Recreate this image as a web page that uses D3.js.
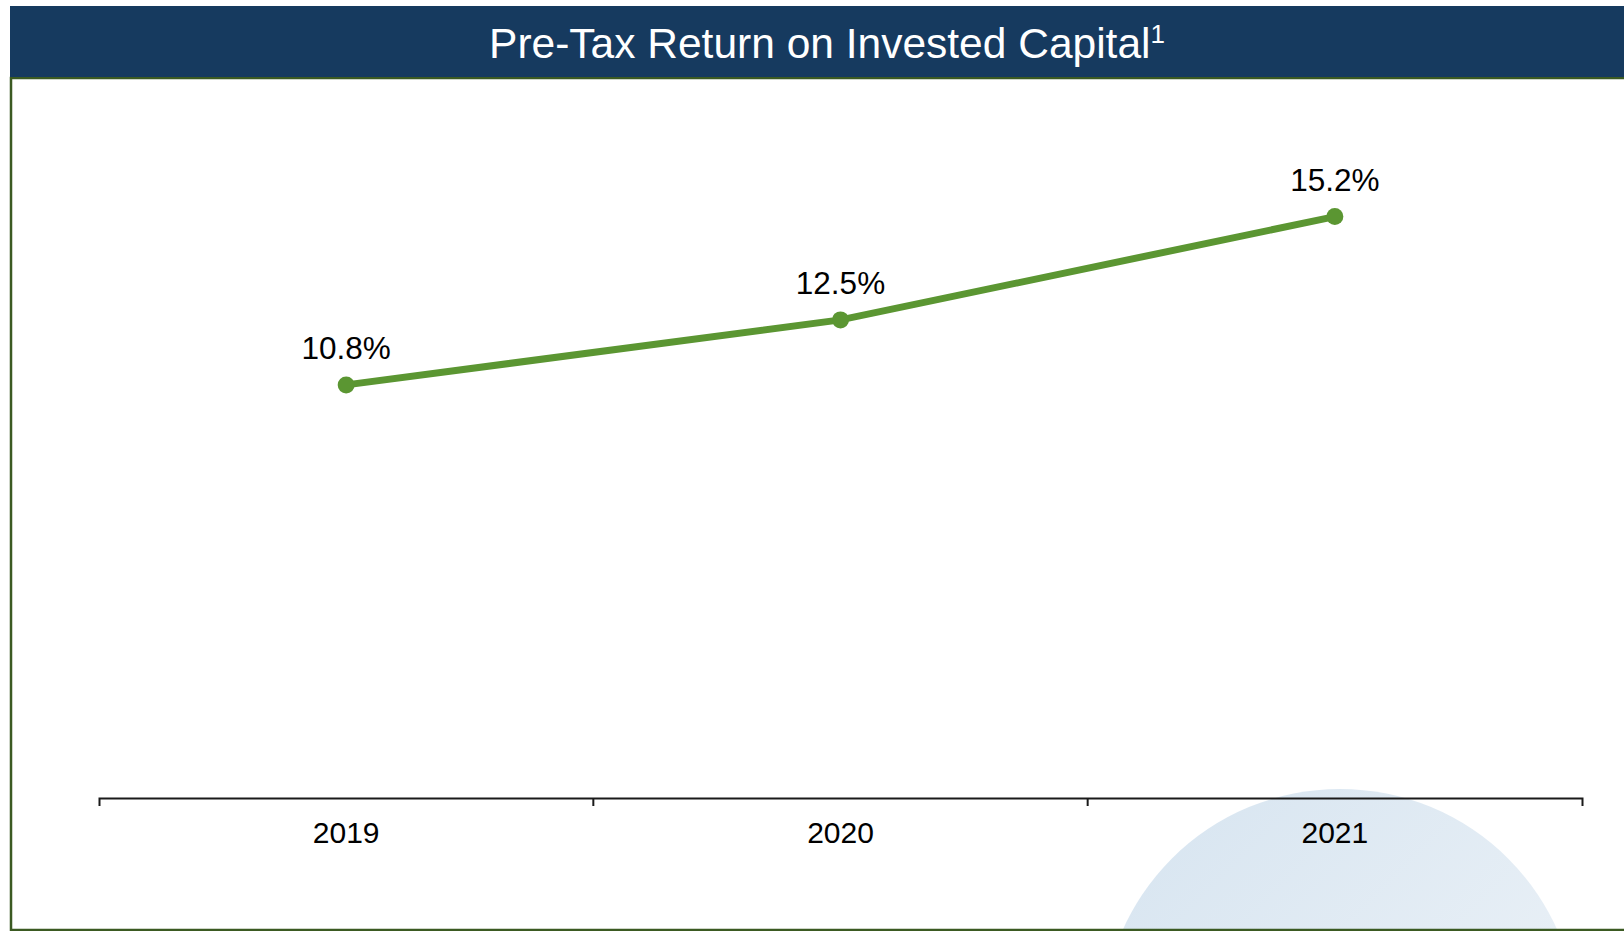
<!DOCTYPE html>
<meta charset="utf-8">
<style>
  body { margin: 0; background: white; }
  svg { display: block; background-color: white; }
  .x-axis path { stroke: #1a1a1a; stroke-width: 2; fill: none; }
  .x-axis text { font-family: "Liberation Sans", Arial, sans-serif; font-size: 30px; fill: black; }
  .val-label { font-family: "Liberation Sans", Arial, sans-serif; font-size: 31.5px; fill: black; }
  .title { font-family: "Liberation Sans", Arial, sans-serif; font-size: 42.5px; fill: white; }
</style>
<body>
<div id="chart"></div>

<script src="https://d3js.org/d3.v7.min.js"></script>
<script>
  // data
  var years = ["2019", "2020", "2021"];
  var roic = [10.8, 12.5, 15.2];
  var valueLabels = ["10.8%", "12.5%", "15.2%"];

  var W = 1624, H = 931;
  var axisY = 798;

  var svg = d3.select("#chart").append("svg")
      .attr("width", W)
      .attr("height", H);

  var defs = svg.append("defs");
  var grad = defs.append("linearGradient")
      .attr("id", "bubble")
      .attr("x1", "0%").attr("y1", "0%")
      .attr("x2", "100%").attr("y2", "100%");
  grad.append("stop").attr("offset", "0%").attr("stop-color", "#d6e4f0");
  grad.append("stop").attr("offset", "100%").attr("stop-color", "#f1f5f9");

  // decorative circle, bottom right
  svg.append("circle")
      .attr("cx", 1340)
      .attr("cy", 1027)
      .attr("r", 238)
      .attr("fill", "url(#bubble)");

  // scales
  var x = d3.scaleBand().domain(years).range([99, 1582]).padding(0);
  var y = d3.scaleLinear().domain([0, 18]).range([axisY, axisY - 18 * 38.25]);

  // x axis
  var xAxis = svg.append("g")
      .attr("class", "axis x-axis")
      .attr("transform", "translate(0," + axisY + ")")
      .call(d3.axisBottom(x).tickSizeInner(0).tickSizeOuter(8).tickPadding(0));

  xAxis.selectAll(".tick text")
      .attr("y", 45)
      .attr("dy", 0);

  // ticks on the band edges
  xAxis.selectAll(".edge")
      .data(years.slice(1))
      .enter()
      .append("line")
      .attr("class", "edge")
      .attr("x1", function(d) { return x(d); })
      .attr("x2", function(d) { return x(d); })
      .attr("y1", 0)
      .attr("y2", 8)
      .attr("stroke", "#1a1a1a")
      .attr("stroke-width", 2);

  var pts = years.map(function(d, i) { return {year: d, v: roic[i], label: valueLabels[i]}; });

  var line = d3.line()
      .x(function(d) { return x(d.year) + x.bandwidth() / 2; })
      .y(function(d) { return y(d.v); });

  svg.append("path")
      .datum(pts)
      .attr("d", line)
      .attr("fill", "none")
      .attr("stroke", "#5b9632")
      .attr("stroke-width", 7);

  svg.selectAll(".dot")
      .data(pts)
      .enter()
      .append("circle")
      .attr("class", "dot")
      .attr("cx", function(d) { return x(d.year) + x.bandwidth() / 2; })
      .attr("cy", function(d) { return y(d.v); })
      .attr("r", 8.5)
      .attr("fill", "#5b9632");

  svg.selectAll(".val-label")
      .data(pts)
      .enter()
      .append("text")
      .attr("class", "val-label")
      .attr("text-anchor", "middle")
      .attr("x", function(d) { return x(d.year) + x.bandwidth() / 2; })
      .attr("y", function(d) { return y(d.v) - 26; })
      .text(function(d) { return d.label; });

  // frame
  svg.append("path")
      .attr("d", "M" + (W + 5) + ",78 L11,78 L11,930 L" + (W + 5) + ",930")
      .attr("fill", "none")
      .attr("stroke", "#3b5a22")
      .attr("stroke-width", 2.5);

  // title bar
  svg.append("rect")
      .attr("x", 10)
      .attr("y", 6)
      .attr("width", W)
      .attr("height", 71)
      .attr("fill", "#163a5f");

  var title = svg.append("text")
      .attr("class", "title")
      .attr("x", 827)
      .attr("y", 58)
      .attr("text-anchor", "middle");
  title.append("tspan").text("Pre-Tax Return on Invested Capital");
  title.append("tspan")
      .attr("font-size", "26px")
      .attr("dy", -15)
      .text("1");
</script>
</body>
